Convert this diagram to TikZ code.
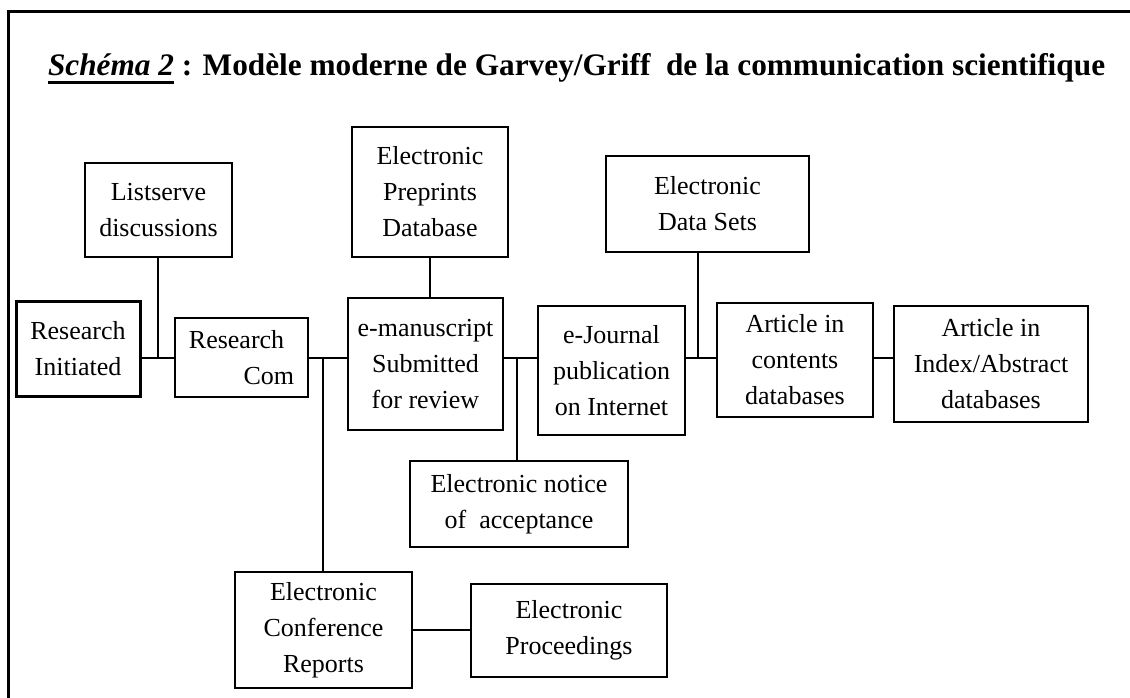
\documentclass[tikz,border=0pt]{standalone}
\usepackage{fontspec}
\setmainfont{Liberation Serif}
\usetikzlibrary{calc}
\newcommand{\undl}[1]{\setbox0\hbox{#1}\rlap{\rule[-8pt]{\wd0}{2.5pt}}\box0\relax}
\tikzset{%
	box/.style args={#1 and #2}{draw, line width=2pt, inner sep=0pt,
	minimum width=#1, minimum height=#2, align=center,
	font=\fontsize{26}{36}\selectfont}
}

\begin{document}
\begin{tikzpicture}[x=1pt, y=-1pt, line width=2pt]
				\useasboundingbox (0,0) rectangle (1130,698);
				\draw [line width=3pt] (8.5,698) -- (8.5,11.5) -- (1130,11.5);
				\node [anchor=base west, inner sep=0pt, font=\fontsize{31.3}{36}\selectfont\bfseries] (title) at (47,76)
					{\undl{\textit{Schéma 2}} : Modèle moderne de Garvey/Griff\ \ de la communication scientifique};
				\node [box=124pt and 95pt, line width=3pt] (init) at (78,348.5) {Research\\Initiated};
				\node [box=147pt and 94pt] (list) at (158.5,210) {Listserve\\discussions};
				\node [box=133pt and 79pt, align=left] (com) at (241.5,357.5) {Research\\\hspace*{2.1em}Com};
				\node [box=156pt and 130pt] (pre) at (430,192) {Electronic\\Preprints\\Database};
				\node [box=155pt and 132pt] (ms) at (425.5,364) {e-manuscript\\Submitted\\for review};
				\node [box=203pt and 96pt] (data) at (707.5,204) {Electronic\\Data Sets};
				\node [box=147pt and 129pt] (ej) at (611.5,370.5) {e-Journal\\publication\\on Internet};
				\node [box=156pt and 114pt] (cont) at (795,360) {Article in\\contents\\databases};
				\node [box=194pt and 116pt] (idx) at (991,364) {Article in\\Index/Abstract\\databases};
				\node [box=218pt and 86pt] (notice) at (519,504) {Electronic notice\\of\ \ acceptance};
				\node [box=177pt and 116pt] (conf) at (323.5,630) {Electronic\\Conference\\Reports};
				\node [box=196pt and 93pt] (proc) at (569,630.5) {Electronic\\Proceedings};
				\coordinate (j1) at (158,358);
				\coordinate (j2) at (323,358);
				\coordinate (j4) at (517,358);
				\coordinate (j3) at (698,358);
				\draw (init.east |- j1) -- (com.west |- j1);
				\draw (list.south -| j1) -- (j1);
				\draw (com.east |- j2) -- (ms.west |- j2);
				\draw (conf.north -| j2) -- (j2);
				\draw (pre.south) -- (pre.south |- ms.north);
				\draw (ms.east |- j4) -- (ej.west |- j4);
				\draw (notice.north -| j4) -- (j4);
				\draw (ej.east |- j3) -- (cont.west |- j3);
				\draw (data.south -| j3) -- (j3);
				\draw (cont.east |- j3) -- (idx.west |- j3);
				\draw (conf.east) -- (conf.east -| proc.west);
			\end{tikzpicture}
\end{document}
